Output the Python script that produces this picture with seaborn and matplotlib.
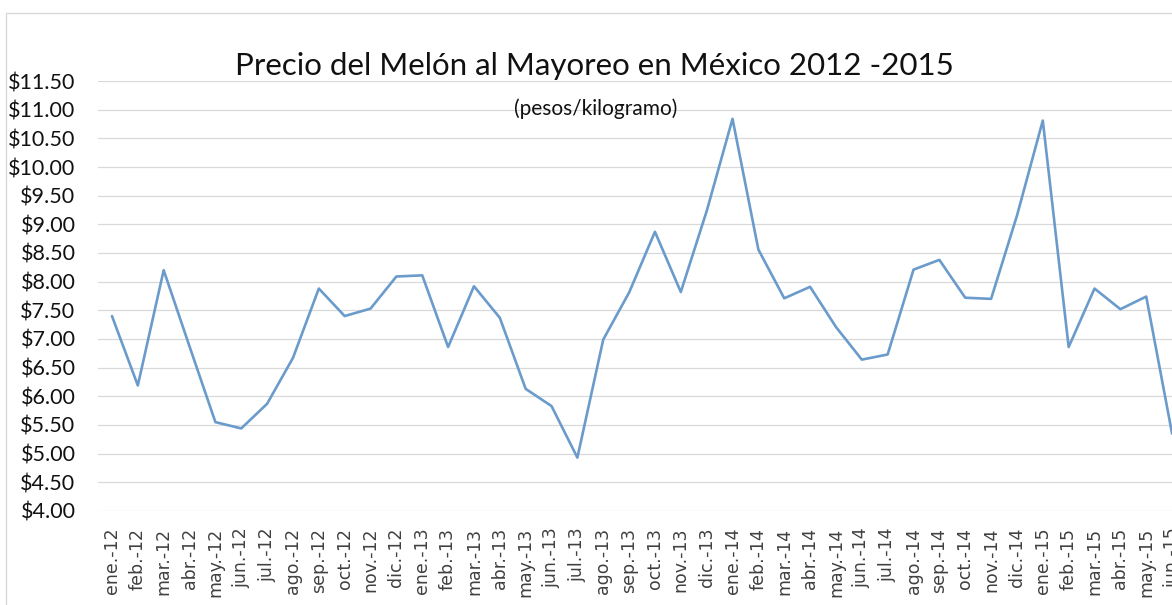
import matplotlib
matplotlib.use('Agg')
import matplotlib.pyplot as plt
import matplotlib.lines as mlines
import numpy as np
import pandas as pd
import seaborn as sns

# Data (pesos por kilogramo)
meses = ['ene.-12', 'feb.-12', 'mar.-12', 'abr.-12', 'may.-12', 'jun.-12',
         'jul.-12', 'ago.-12', 'sep.-12', 'oct.-12', 'nov.-12', 'dic.-12',
         'ene.-13', 'feb.-13', 'mar.-13', 'abr.-13', 'may.-13', 'jun.-13',
         'jul.-13', 'ago.-13', 'sep.-13', 'oct.-13', 'nov.-13', 'dic.-13',
         'ene.-14', 'feb.-14', 'mar.-14', 'abr.-14', 'may.-14', 'jun.-14',
         'jul.-14', 'ago.-14', 'sep.-14', 'oct.-14', 'nov.-14', 'dic.-14',
         'ene.-15', 'feb.-15', 'mar.-15', 'abr.-15', 'may.-15', 'jun.-15']
precio = [7.40, 6.19, 8.20, 6.87, 5.55, 5.44,
          5.87, 6.67, 7.88, 7.40, 7.53, 8.09,
          8.11, 6.86, 7.92, 7.37, 6.13, 5.83,
          4.93, 6.99, 7.81, 8.87, 7.82, 9.23,
          10.84, 8.56, 7.71, 7.91, 7.21, 6.64,
          6.73, 8.21, 8.38, 7.72, 7.70, 9.15,
          10.81, 6.86, 7.88, 7.52, 7.74, 5.35]
y_ticks = np.arange(4.0, 11.51, 0.5)

df = pd.DataFrame({'pos': np.arange(len(meses)), 'precio': precio})

sns.set_theme(style='white')
plt.rcParams['font.family'] = ['Lato', 'DejaVu Sans']

fig = plt.figure(figsize=(11.72, 6.05), dpi=100)
# axes run slightly past the right edge, like the cropped original
ax = fig.add_axes([0.0834, 0.1554, 0.9277, 0.7107])

sns.lineplot(data=df, x='pos', y='precio', ax=ax, color='#6A9BCB', linewidth=1.9)

ax.set_xlim(-0.55, len(meses) - 0.5)
ax.set_ylim(4.0, 11.5)
ax.set_yticks(y_ticks)
ax.set_yticklabels(['${:.2f}'.format(v) for v in y_ticks], fontsize=15.5,
                   color='#111111')
ax.set_xticks(df['pos'])
ax.set_xticklabels(meses, rotation=90, fontsize=12.5, family='DejaVu Sans',
                   color='#404040')
ax.tick_params(axis='x', length=0, pad=12)
ax.tick_params(axis='y', length=0, pad=16)
ax.grid(axis='y', color='#d9d9d9', linewidth=0.9)
ax.set_axisbelow(True)
for s in ax.spines.values():
    s.set_visible(False)
ax.set_xlabel('')
ax.set_ylabel('')

fig.text(0.507, 1 - 75 / 605, 'Precio del Melón al Mayoreo en México 2012 -2015',
         ha='center', va='baseline', fontsize=22.5, color='#111111')
fig.text(0.508, 1 - 115 / 605, '(pesos/kilogramo)',
         ha='center', va='baseline', fontsize=15, color='#111111')

# light chart-area frame (top and left edges visible)
frame_col = '#d9d9d9'
fig.add_artist(mlines.Line2D([6 / 1172, 1.0], [1 - 13 / 605, 1 - 13 / 605],
                             transform=fig.transFigure, color=frame_col, linewidth=1))
fig.add_artist(mlines.Line2D([6 / 1172, 6 / 1172], [0.0, 1 - 13 / 605],
                             transform=fig.transFigure, color=frame_col, linewidth=1))

fig.savefig('out.png', dpi=100)
